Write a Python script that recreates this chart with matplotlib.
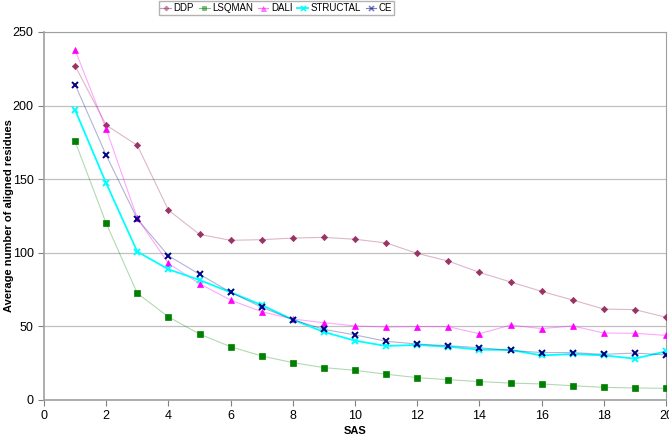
import matplotlib
matplotlib.use("Agg")
import matplotlib.pyplot as plt

plt.rcParams['font.family'] = ['Liberation Sans', 'DejaVu Sans']

sas = list(range(1, 21))

ddp = [227, 186.7, 173, 129, 112.5, 108.5, 108.9, 110, 110.5, 109.2,
       106.7, 99.6, 94.4, 86.7, 80.2, 73.8, 67.9, 61.8, 61.4, 56.2]
lsqman = [175.7, 120, 72.5, 56.5, 44.8, 36.2, 29.9, 25.4, 22, 20.2,
          17.5, 15.2, 13.8, 12.5, 11.5, 10.9, 9.7, 8.6, 8.2, 7.9]
dali = [237.8, 184, 123.5, 92.8, 79, 67.9, 60, 55, 52.5, 50.3,
        49.6, 49.9, 49.8, 45, 50.9, 48.5, 50.3, 45.5, 45.3, 43.9]
structal = [197, 147.2, 100.8, 88.8, 81.5, 73.2, 64.5, 54.6, 46.2, 40.3,
            36.7, 37.4, 36.2, 34.2, 34, 30.3, 31.2, 30.3, 28.1, 33]
ce = [214.3, 166.3, 123, 98, 85.4, 73.2, 63, 54.6, 48, 44.2,
      39.9, 38, 36.9, 35.5, 33.7, 32.2, 32.2, 31, 31.9, 30.6]

series = [
    ('DDP', ddp, '#993366', 'D', 3.2, 0.8, 0.35),
    ('LSQMAN', lsqman, '#008000', 's', 3.8, 0.8, 0.3),
    ('DALI', dali, '#FF00FF', '^', 4.5, 0.8, 0.35),
    ('STRUCTAL', structal, '#00FFFF', 'x', 4.5, 1.3, 1.0),
    ('CE', ce, '#000080', 'x', 4.5, 0.8, 0.3),
]

fig = plt.figure(figsize=(6.69, 4.41), dpi=100)
ax = fig.add_axes([44/669, 1-400/441, 622/669, 368/441])

for name, vals, col, mk, ms, lw, la in series:
    ax.plot(sas, vals, color=col, alpha=la, linewidth=lw, zorder=2)
    ax.plot(sas, vals, linestyle='none', marker=mk, color=col, markersize=ms,
            markeredgewidth=1.4 if mk == 'x' else 0.5, zorder=3)
    # legend proxy
    ax.plot([], [], color=col, linewidth=lw, alpha=max(la, 0.5), marker=mk,
            markersize=ms * 0.8, markeredgewidth=1.2 if mk == 'x' else 0.5,
            label=name)

ax.set_xlim(0, 20)
ax.set_ylim(0, 250)
ax.set_xticks(range(0, 21, 2))
ax.set_yticks(range(0, 251, 50))
ax.yaxis.grid(True, color='#c0c0c0', linewidth=0.9)
ax.set_axisbelow(True)

for s in ax.spines.values():
    s.set_color('#a0a0a0')
ax.spines['left'].set_linewidth(1.2)
ax.spines['bottom'].set_linewidth(1.2)
ax.tick_params(axis='both', direction='out', length=4, color='#808080',
               labelsize=9)

ax.set_xlabel('SAS', fontsize=8, fontweight='bold')
ax.xaxis.set_label_coords(0.5, -0.072)
ax.set_ylabel('Average number of aligned residues', fontsize=8,
              fontweight='bold')
ax.yaxis.set_label_coords(-0.048, 0.5)

handles, labels = ax.get_legend_handles_labels()
fig.legend(handles, labels, loc='upper center', bbox_to_anchor=(0.413, 1.0),
           ncol=5, fontsize=7, frameon=True, fancybox=False, edgecolor='#a0a0a0',
           handlelength=1.1, handletextpad=0.25, columnspacing=0.5,
           borderpad=0.2, borderaxespad=0.1)

fig.savefig('out.png', dpi=100)
